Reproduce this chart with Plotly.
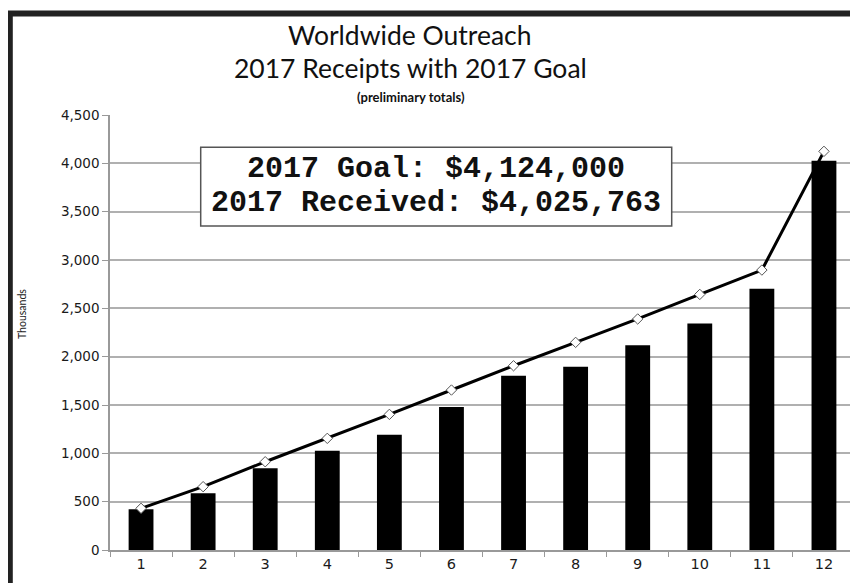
import plotly.graph_objects as go

months = ["1", "2", "3", "4", "5", "6", "7", "8", "9", "10", "11", "12"]
received = [421, 586, 845, 1027, 1192, 1479, 1802, 1896, 2117, 2344, 2702, 4026]
goal = [431, 655, 913, 1155, 1403, 1655, 1906, 2148, 2390, 2644, 2896, 4124]
y_ticks = [0, 500, 1000, 1500, 2000, 2500, 3000, 3500, 4000, 4500]
y_tick_text = ["0", "500", "1,000", "1,500", "2,000", "2,500", "3,000", "3,500", "4,000", "4,500"]

# page body has an 8px margin; work in page pixel coordinates
OFF = 8
W, H = 858 - OFF, 583 - OFF
PLOT_L, PLOT_R, PLOT_T, PLOT_B = 110, 855, 115, 550  # page coords
L = PLOT_L - OFF
R = W - (PLOT_R - OFF)
T = PLOT_T - OFF
B = H - (PLOT_B - OFF)
PW, PH = PLOT_R - PLOT_L, PLOT_B - PLOT_T


def px(x):
    return (x - PLOT_L) / PW


def py(y):
    return (PLOT_B - y) / PH


fig = go.Figure()
fig.add_trace(go.Bar(x=months, y=received, marker=dict(color="black", line=dict(width=0)),
                     width=0.4, showlegend=False))
fig.add_trace(go.Scatter(x=months, y=goal, mode="lines+markers",
                         line=dict(color="black", width=3),
                         marker=dict(symbol="diamond", size=8, color="white",
                                     line=dict(color="#555555", width=1)),
                         showlegend=False))

fig.update_layout(
    width=W, height=H,
    margin=dict(l=L, r=R, t=T, b=B),
    paper_bgcolor="white", plot_bgcolor="white",
    font=dict(family="DejaVu Sans", color="#222222"),
    xaxis=dict(type="category", tickson="boundaries", ticks="outside", ticklen=5,
               tickcolor="#999999", showline=True, linecolor="#999999", linewidth=1.5,
               showgrid=False, tickfont=dict(size=14.5, color="#1a1a1a"),
               range=[-0.5, 11.5]),
    yaxis=dict(range=[0, 4500], tickvals=y_ticks, ticktext=y_tick_text,
               ticks="outside", ticklen=6, tickcolor="#999999",
               showline=True, linecolor="#999999", linewidth=1.5,
               showgrid=True, gridcolor="#b0b0b0", gridwidth=1.5,
               zeroline=False, tickfont=dict(size=13.5, color="#1a1a1a")),
)

annotations = [
    dict(text="Worldwide Outreach", x=px(410), y=py(35), font=dict(family="Lato", size=26.5, color="#111111")),
    dict(text="2017 Receipts with 2017 Goal", x=px(410), y=py(68), font=dict(family="Lato", size=26.5, color="#111111")),
    dict(text="<b>(preliminary totals)</b>", x=px(411), y=py(97), font=dict(family="Lato", size=13, color="#111111")),
    dict(text="Thousands", x=px(22), y=py(314), textangle=-90, font=dict(family="Lato", size=10.5, color="#222222")),
    dict(text="<b>2017 Goal: $4,124,000</b>", x=px(436.2), y=py(169),
         font=dict(family="Liberation Mono", size=30, color="#111111")),
    dict(text="<b>2017 Received: $4,025,763</b>", x=px(436.2), y=py(203),
         font=dict(family="Liberation Mono", size=30, color="#111111")),
]
for a in annotations:
    a.update(xref="paper", yref="paper", showarrow=False, xanchor="center", yanchor="middle")
fig.update_layout(annotations=annotations)

fig.update_layout(shapes=[
    dict(type="rect", xref="paper", yref="paper", x0=px(200.7), x1=px(671.7), y0=py(226), y1=py(147.3),
         fillcolor="white", line=dict(color="#555555", width=1.5), layer="above"),
    dict(type="rect", xref="paper", yref="paper", x0=px(9.8), x1=px(855.6), y0=py(600), y1=py(13.6),
         fillcolor="rgba(0,0,0,0)", line=dict(color="#222222", width=6), layer="above"),
])

fig.write_html("out.html")
